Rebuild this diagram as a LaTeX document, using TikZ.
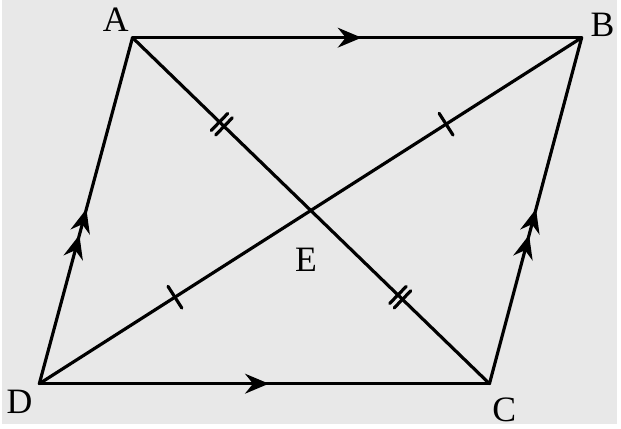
\documentclass[tikz,border=0pt]{standalone}
\usepackage{fontspec}
\setmainfont{Liberation Serif}
\usetikzlibrary{arrows.meta,decorations.markings}
\definecolor{bgpaper}{RGB}{232,232,232}
\tikzset{
  partip/.tip={Stealth[length=12pt,width=10pt,inset=4pt]},
  onearrow/.style={postaction={decorate},decoration={markings,
    mark=at position 0.51 with {\arrow{partip}}}},
  twoarrow/.style={postaction={decorate},decoration={markings,
    mark=at position 0.43 with {\arrow{partip}},
    mark=at position 0.505 with {\arrow{partip}}}},
  onetick/.style={postaction={decorate},decoration={markings,
    mark=at position 0.25 with {\draw (0,-6.5pt)--(0,6.5pt);},
    mark=at position 0.75 with {\draw (0,-6.5pt)--(0,6.5pt);}}},
  twotick/.style={postaction={decorate},decoration={markings,
    mark=at position 0.25 with {\draw (-1.6pt,-6pt)--(-1.6pt,6pt) (1.6pt,-6pt)--(1.6pt,6pt);},
    mark=at position 0.75 with {\draw (-1.6pt,-6pt)--(-1.6pt,6pt) (1.6pt,-6pt)--(1.6pt,6pt);}}}
}
\begin{document}
\begin{tikzpicture}[x=0.5pt,y=0.5pt,line width=1.6pt,line join=round,line cap=round,font=\fontsize{18}{20}\selectfont]
		\fill[bgpaper] (0,0) rectangle (621,428);
		\coordinate (A) at (132,390);
		\coordinate (B) at (585,390);
		\coordinate (C) at (492,41);
		\coordinate (D) at (38,41);
		\draw[onearrow] (A)--(B);
		\draw[onearrow] (D)--(C);
		\draw[twoarrow] (D)--(A);
		\draw[twoarrow] (C)--(B);
		\draw[twotick] (A)--(C);
		\draw[onetick] (D)--(B);
		\foreach \n/\x/\y in {A/115/408,B/606/403,C/507/15,D/18/23,E/307/166}\node (l\n) at (\x,\y) {\n};
		\end{tikzpicture}
\end{document}
